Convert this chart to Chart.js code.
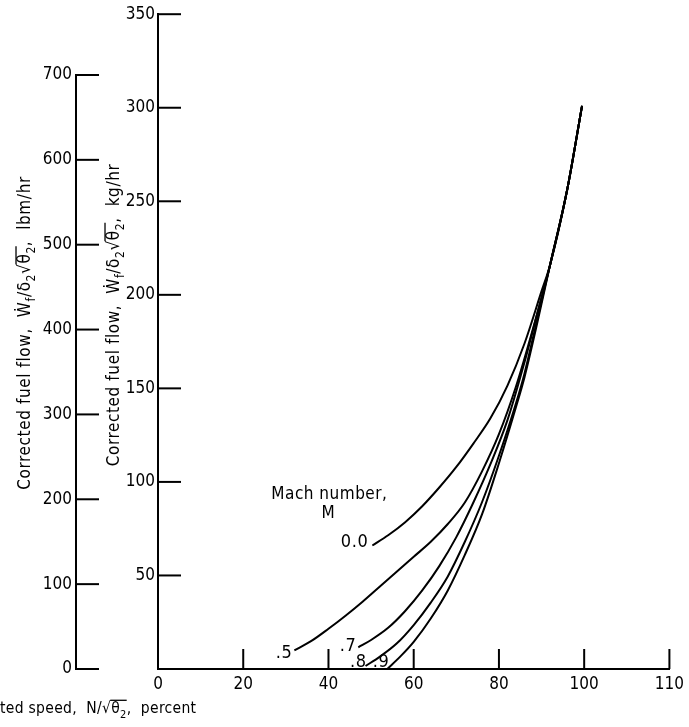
<!DOCTYPE html>
<html><head><meta charset="utf-8">
<script src="https://cdn.jsdelivr.net/npm/chart.js@4.4.1/dist/chart.umd.min.js"></script>
<style>html,body{margin:0;padding:0;background:#fff}#wrap{width:689px;height:727px;position:relative}</style>
</head><body><div id="wrap"><canvas id="c"></canvas></div>
<script>
// ---- data ----
const machLabels = ['0.0', '.5', '.7', '.8', '.9'];
const speedM00 = [50.3, 54, 58, 62, 66, 70, 74, 78, 82, 86, 90, 92, 96, 99.5];
const flowM00  = [66, 71.5, 78.5, 87, 97, 108, 120.5, 134, 151.5, 174, 202, 216, 256, 301];
const speedM05 = [32, 36, 40, 44, 48, 52, 56, 60, 64, 68, 72, 76, 80, 84, 88, 92, 96, 99.5];
const flowM05  = [10, 15, 21.5, 28.5, 36, 44, 52, 60, 68, 77.5, 89, 105.5, 125.5, 151, 182, 216, 256, 301];
const speedM07 = [47, 50, 54, 58, 62, 66, 70, 74, 78, 82, 86, 89, 92, 96, 99.5];
const flowM07  = [11.6, 15.5, 22, 31, 42, 55, 70.5, 89, 109.5, 133, 164, 190, 216, 256, 301];
const speedM08 = [48.7, 52, 56, 60, 64, 68, 72, 76, 80, 84, 86, 89, 92, 96, 99.5];
const flowM08  = [1.6, 6.5, 13.6, 23.5, 35.5, 49.5, 68, 89, 114, 142, 158, 187, 216, 256, 301];
const speedM09 = [53.8, 57, 60, 64, 68, 72, 76, 80, 84, 86, 89, 92, 96, 99.5];
const flowM09  = [0, 7, 14.5, 27, 42, 61, 82.5, 110, 140, 156, 185, 216, 256, 301];

const xTickValues = [0, 20, 40, 60, 80, 100, 120];
const xTickLabels = ['0', '20', '40', '60', '80', '100', '110'];
const kgTickValues = [50, 100, 150, 200, 250, 300, 350];
const lbmTickValues = [0, 100, 200, 300, 400, 500, 600, 700];
const LBM_PER_KG = 2.20462;

const seriesX = [speedM00, speedM05, speedM07, speedM08, speedM09];
const seriesY = [flowM00, flowM05, flowM07, flowM08, flowM09];

// ---- styling ----
const NARROW = '"Liberation Sans Narrow", "DejaVu Sans Condensed", "Liberation Sans", sans-serif';
const tickFont = { family: NARROW, size: 17 };

function toPts(xs, ys) { return xs.map((x, i) => ({ x: x, y: ys[i] })); }

const datasets = seriesX.map((xs, i) => ({
  label: 'M = ' + machLabels[i],
  data: toPts(xs, seriesY[i]),
  showLine: true,
  borderColor: '#000',
  borderWidth: 2,
  pointRadius: 0,
  cubicInterpolationMode: 'monotone',
  fill: false,
  yAxisID: 'y'
}));

// rich text helper for titles
function drawRich(ctx, segs, x, y, size, spacing) {
  const main = size + 'px ' + NARROW;
  const sub = Math.round(size * 0.72) + 'px ' + NARROW;
  ctx.letterSpacing = spacing + 'px';
  let cx = x, overStart = null, overEnd = null;
  segs.forEach(s => {
    ctx.font = s.sub ? sub : main;
    const w = ctx.measureText(s.t).width;
    const dy = s.sub ? size * 0.3 : 0;
    ctx.fillText(s.t, cx, y + dy);
    if (s.over) { if (overStart === null) overStart = cx; overEnd = cx + w; }
    cx += w;
  });
  if (overStart !== null) {
    ctx.beginPath();
    ctx.lineWidth = 1.3;
    ctx.moveTo(overStart - 1, y - size * 0.82);
    ctx.lineTo(overEnd, y - size * 0.82);
    ctx.stroke();
  }
  ctx.letterSpacing = '0px';
  return cx - x;
}
function measureRich(ctx, segs, size, spacing) {
  const main = size + 'px ' + NARROW;
  const sub = Math.round(size * 0.72) + 'px ' + NARROW;
  ctx.letterSpacing = spacing + 'px';
  let w = 0;
  segs.forEach(s => { ctx.font = s.sub ? sub : main; w += ctx.measureText(s.t).width; });
  ctx.letterSpacing = '0px';
  return w;
}
function flowTitle(unit) {
  return [
    { t: 'Corrected fuel flow,  Ẇ' }, { t: 'f', sub: true }, { t: '/δ' }, { t: '2', sub: true },
    { t: '√' }, { t: 'θ', over: true }, { t: '2', sub: true, over: true }, { t: ',  ' + unit }
  ];
}
const speedTitle = [{ t: 'Corrected speed,  N/√' }, { t: 'θ', over: true }, { t: '2', sub: true, over: true }, { t: ',  percent' }];

const refPlugin = {
  id: 'refDecor',
  afterDraw(chart) {
    const ctx = chart.ctx;
    const xs = chart.scales.x, ys = chart.scales.y, yl = chart.scales.yLbm;
    ctx.save();
    ctx.strokeStyle = '#000';
    ctx.fillStyle = '#000';
    ctx.lineWidth = 2;
    const seg = (x1, y1, x2, y2) => { ctx.beginPath(); ctx.moveTo(x1, y1); ctx.lineTo(x2, y2); ctx.stroke(); };
    // x ticks pointing up
    xTickValues.forEach(v => { if (v === 0) return; const p = xs.getPixelForValue(v); seg(p, xs.top, p, xs.top - 20); });
    // kg ticks pointing right
    kgTickValues.forEach(v => { const p = ys.getPixelForValue(v); seg(ys.right, p, ys.right + 23, p); });
    // lbm axis line and ticks
    seg(yl.right, yl.getPixelForValue(0) + 1, yl.right, yl.getPixelForValue(700) - 1);
    lbmTickValues.forEach(v => { const p = yl.getPixelForValue(v); seg(yl.right, p, yl.right + 23, p); });

    // series labels anchored at each curve's start
    ctx.textBaseline = 'middle';
    ctx.textAlign = 'right';
    ctx.font = '18px ' + NARROW;
    ctx.letterSpacing = '0.6px';
    const off = [[-4, -3], [-2, 3], [-2, -1], [1, -4], [2, -7]];
    chart.data.datasets.forEach((d, i) => {
      const pt = chart.getDatasetMeta(i).data[0];
      ctx.fillText(machLabels[i], pt.x + off[i][0], pt.y + off[i][1]);
    });
    const p0 = chart.getDatasetMeta(0).data[0];
    ctx.textAlign = 'center';
    ctx.font = '17px ' + NARROW;
    ctx.letterSpacing = '0.5px';
    ctx.fillText('Mach number,', p0.x - 43, p0.y - 51);
    ctx.fillText('M', p0.x - 44, p0.y - 32);
    ctx.letterSpacing = '0px';

    // axis titles
    ctx.textAlign = 'left';
    ctx.textBaseline = 'alphabetic';
    const tsize = 17, tsp = 0.6;
    // x title (its left part runs off the canvas as in the reference)
    const xsize = 15.5, xsp = 0.3;
    ctx.font = xsize + 'px ' + NARROW;
    ctx.letterSpacing = xsp + 'px';
    const cut = ctx.measureText('Correc').width;
    ctx.letterSpacing = '0px';
    drawRich(ctx, speedTitle, -cut, 713, xsize, xsp);
    // y titles (rotated)
    [[flowTitle('lbm/hr'), 24, 333], [flowTitle('kg/hr'), 113, 315]].forEach(([segs, cx, cy]) => {
      const w = measureRich(ctx, segs, tsize, tsp);
      ctx.save();
      ctx.translate(cx, cy);
      ctx.rotate(-Math.PI / 2);
      drawRich(ctx, segs, -w / 2, tsize * 0.35, tsize, tsp);
      ctx.restore();
    });
    ctx.restore();
  }
};

new Chart(document.getElementById('c'), {
  type: 'scatter',
  data: { datasets: datasets },
  plugins: [refPlugin],
  options: {
    responsive: true,
    maintainAspectRatio: false,
    devicePixelRatio: 1,
    animation: false,
    layout: { padding: { left: 0, right: 14, top: 11, bottom: 0 } },
    plugins: { legend: { display: false }, tooltip: { enabled: false } },
    scales: {
      x: {
        type: 'linear', position: 'bottom', min: 0, max: 120,
        afterBuildTicks: s => { s.ticks = xTickValues.map(v => ({ value: v })); },
        ticks: { font: tickFont, color: '#000', padding: 5, maxRotation: 0, autoSkip: false,
          callback: (v) => xTickLabels[xTickValues.indexOf(v)] },
        grid: { display: false, drawTicks: false },
        border: { display: true, color: '#000', width: 2 },
        afterFit: s => { s.height = 58; }
      },
      y: {
        type: 'linear', position: 'left', min: 0, max: 350, weight: 0,
        afterBuildTicks: s => { s.ticks = kgTickValues.map(v => ({ value: v })); },
        ticks: { font: tickFont, color: '#000', padding: 3, autoSkip: false },
        grid: { display: false, drawTicks: false },
        border: { display: true, color: '#000', width: 2 },
        afterFit: s => { s.width = 82; }
      },
      yLbm: {
        type: 'linear', position: 'left', min: 0, max: 350 * LBM_PER_KG, weight: 1,
        afterBuildTicks: s => { s.ticks = lbmTickValues.map(v => ({ value: v })); },
        ticks: { font: tickFont, color: '#000', padding: 4, autoSkip: false },
        grid: { display: false, drawTicks: false },
        border: { display: false },
        afterFit: s => { s.width = 76; }
      }
    }
  }
});
</script>
</body></html>
